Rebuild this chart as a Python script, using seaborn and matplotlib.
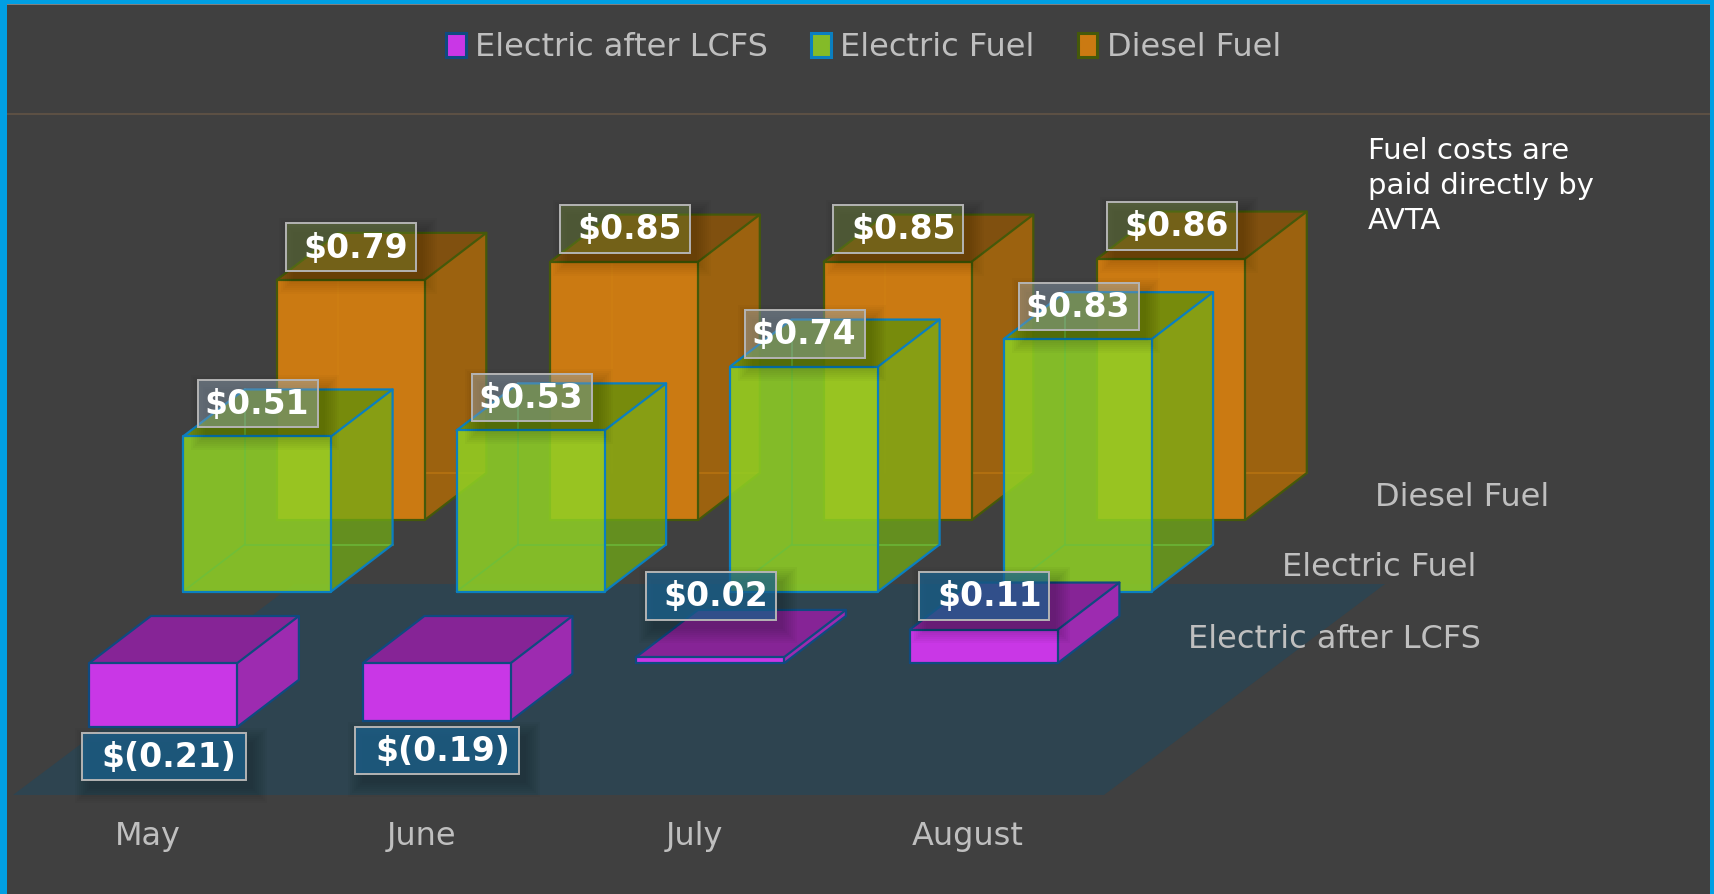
import matplotlib
matplotlib.use("Agg")
import matplotlib.pyplot as plt
import seaborn as sns
import pandas as pd
from matplotlib.patches import Patch, Polygon, Rectangle

months = ["May", "June", "July", "August"]
series_names = ["Electric after LCFS", "Electric Fuel", "Diesel Fuel"]
after_lcfs = [-0.21, -0.19, 0.02, 0.11]
electric_fuel = [0.51, 0.53, 0.74, 0.83]
diesel_fuel = [0.79, 0.85, 0.85, 0.86]
after_lcfs_labels = ["$(0.21)", "$(0.19)", "$0.02", "$0.11"]
electric_fuel_labels = ["$0.51", "$0.53", "$0.74", "$0.83"]
diesel_fuel_labels = ["$0.79", "$0.85", "$0.85", "$0.86"]
note_lines = ["Fuel costs are", "paid directly by", "AVTA"]

W, H = 1714, 894
BG = "#404040"
BLUE = "#009fe3"

# layout, all in reference pixels
PITCH = 273.5
PX_PER_DOLLAR = 304
X_MAY = 163.4
Y_BASE = 663
BAR_W = 148
STEP_X, STEP_Y = 93.7, 71.5
DEPTH_X, DEPTH_Y = 61.5, 47


def xd(px):
    return (px - X_MAY) / PITCH


def yd(py):
    return (Y_BASE - py) / PX_PER_DOLLAR


sns.set_theme(style="white")
plt.rcParams["font.family"] = ["DejaVu Sans"]

fig = plt.figure(figsize=(W / 100, H / 100), dpi=100, facecolor=BG)
ax = fig.add_axes([0, 0, 1, 1])
ax.set_facecolor(BG)

# floor
ax.add_patch(Polygon([(xd(13), yd(795)), (xd(1104), yd(795)), (xd(1385), yd(584)), (xd(294), yd(584))],
                     facecolor="#2e4450", edgecolor="none", zorder=1))

styles = [
    dict(values=after_lcfs, labels=after_lcfs_labels, step=0, front="#c937e6", front_a=1,
         side="#9d2bb0", side_a=1, top="#862496", top_a=1, edge="#0f4a80", inner=None, inner_a=0,
         box="#1b6594", box_a=0.7, text_dx=5, box_w=130, shadow=0.028),
    dict(values=electric_fuel, labels=electric_fuel_labels, step=1, front="#90d224", front_a=0.85,
         side="#71ab15", side_a=0.75, top="#6e8e0c", top_a=0.9, edge="#0a7fc0", inner="#6cbf3c", inner_a=0.8,
         box="#a8c0d8", box_a=0.38, text_dx=-1, box_w=120, shadow=0.022),
    dict(values=diesel_fuel, labels=diesel_fuel_labels, step=2, front="#cb7a12", front_a=1,
         side="#9c620f", side_a=1, top="#80500f", top_a=1, edge="#45590a", inner="#d08212", inner_a=0.5,
         box="#8fb040", box_a=0.3, text_dx=5, box_w=130, shadow=0.018),
]

# back to front so the nearer boxes sit over the further ones
for style in reversed(styles):
    step = style["step"]
    z = 5 - step
    x_off = step * STEP_X / PITCH
    base = step * STEP_Y / PX_PER_DOLLAR
    hw = BAR_W / PITCH / 2
    dx = DEPTH_X / PITCH
    dy = DEPTH_Y / PX_PER_DOLLAR
    frame = pd.DataFrame({"pos": [i + x_off for i in range(4)], "value": style["values"]})
    sns.barplot(data=frame, x="pos", y="value", native_scale=True, width=BAR_W / PITCH, bottom=base,
                color=style["front"], saturation=1, errorbar=None, linewidth=0,
                alpha=style["front_a"], zorder=z + 0.3, ax=ax)
    for pos, value in zip(frame["pos"], frame["value"]):
        x0, x1 = pos - hw, pos + hw
        lo, hi = sorted([base, base + value])
        ax.add_patch(Polygon([(x1, lo), (x1 + dx, lo + dy), (x1 + dx, hi + dy), (x1, hi)],
                             facecolor=style["side"], alpha=style["side_a"], edgecolor="none", zorder=z + 0.2))
        ax.add_patch(Polygon([(x0, hi), (x1, hi), (x1 + dx, hi + dy), (x0 + dx, hi + dy)],
                             facecolor=style["top"], alpha=style["top_a"], edgecolor="none", zorder=z + 0.2))
        if step == 1:
            ax.plot([x0 + dx, x0 + dx, x1 + dx], [hi + dy, lo + dy, lo + dy], color=style["inner"],
                    lw=1.2, alpha=style["inner_a"], zorder=z + 0.35)
            ax.plot([x0, x0 + dx], [lo, lo + dy], color=style["inner"], lw=1.2, alpha=style["inner_a"], zorder=z + 0.35)
        elif step == 2:
            ax.plot([x0 + dx, x0 + dx], [hi, lo + dy], color=style["inner"], lw=1.2, alpha=style["inner_a"], zorder=z + 0.35)
            ax.plot([x1, x1 + dx], [lo + dy, lo + dy], color=style["inner"], lw=1.2, alpha=style["inner_a"], zorder=z + 0.35)
        ax.plot([x0, x1, x1, x0, x0], [lo, lo, hi, hi, lo], color=style["edge"], lw=1.6, zorder=z + 0.4)
        ax.plot([x0, x0 + dx, x1 + dx, x1 + dx, x1], [hi, hi + dy, hi + dy, lo + dy, lo],
                color=style["edge"], lw=1.6, zorder=z + 0.4)
        ax.plot([x1, x1 + dx], [hi, hi + dy], color=style["edge"], lw=1.6, zorder=z + 0.4)

# value labels with a soft shadow
for style in styles:
    step = style["step"]
    x_off = step * STEP_X / PITCH
    base = step * STEP_Y / PX_PER_DOLLAR
    for i, (value, label) in enumerate(zip(style["values"], style["labels"])):
        left = X_MAY + PITCH * (i + x_off) - BAR_W / 2
        bar_top = Y_BASE - PX_PER_DOLLAR * (base + value)
        if step == 0 and value < 0:
            box_w, box_h = 164, 47.5
            x_px, y_px = left - 7.5, Y_BASE - PX_PER_DOLLAR * value + 6
        elif step == 0:
            box_w, box_h = style["box_w"], 47.5
            x_px, y_px = left + 9.3, 572
        else:
            box_w, box_h = style["box_w"], 47.5
            x_px, y_px = left + (15 if step == 1 else 9.3), bar_top - 9 - box_h
        for grow in range(14, -2, -2):
            ax.add_patch(Rectangle((xd(x_px + 7 - grow), yd(y_px + 9 + box_h + grow)),
                                   (box_w + 2 * grow) / PITCH, (box_h + 2 * grow) / PX_PER_DOLLAR,
                                   facecolor="black", alpha=style["shadow"], edgecolor="none", zorder=8))
        ax.add_patch(Rectangle((xd(x_px), yd(y_px + box_h)), box_w / PITCH, box_h / PX_PER_DOLLAR,
                               facecolor=style["box"], alpha=style["box_a"], edgecolor="none", zorder=9))
        ax.add_patch(Rectangle((xd(x_px), yd(y_px + box_h)), box_w / PITCH, box_h / PX_PER_DOLLAR,
                               facecolor="none", edgecolor="#b4b4b4", lw=1.4, zorder=9.5))
        ax.text(xd(x_px + box_w / 2 + style["text_dx"]), yd(y_px + box_h / 2 + 1), label, color="white",
                fontsize=23.8, fontweight="bold", ha="center", va="center", zorder=10)

# month and series names
for i, month in enumerate(months):
    ax.text(i + xd(147.6), yd(836), month, color="#bfbfbf", fontsize=23, ha="center", va="center", zorder=3)
for name, px, py in zip(series_names, [1188, 1282, 1375], [639, 568, 497]):
    ax.text(xd(px), yd(py), name, color="#bfbfbf", fontsize=23, ha="left", va="center", zorder=3)
for line, py in zip(note_lines, [151, 186, 221]):
    ax.text(xd(1368), yd(py), line, color="white", fontsize=21, ha="left", va="center", zorder=3)

handles = [Patch(facecolor="#c937e6", edgecolor="#0f4a80", lw=2.2),
           Patch(facecolor="#84bb28", edgecolor="#0a7fc0", lw=2.2),
           Patch(facecolor="#cb7a12", edgecolor="#45590a", lw=2.2)]
leg = ax.legend(handles, series_names, ncols=3, loc="center", bbox_to_anchor=(863.5 / W, 1 - 47.5 / H), frameon=False,
                fontsize=23, labelcolor="#bfbfbf", handlelength=0.62, handleheight=0.8, handletextpad=0.3,
                columnspacing=1.34, borderpad=0, borderaxespad=0)

# frame of the slide
ax.add_patch(Rectangle((xd(0), yd(114.5)), W / PITCH, 1.2 / PX_PER_DOLLAR, facecolor="#5c5044", edgecolor="none", zorder=2))
ax.add_patch(Rectangle((xd(0), yd(5)), W / PITCH, 1 / PX_PER_DOLLAR, facecolor="#808080", edgecolor="none", zorder=19))
ax.add_patch(Rectangle((xd(0), yd(H)), 7 / PITCH, H / PX_PER_DOLLAR, facecolor=BLUE, edgecolor="none", zorder=20))
ax.add_patch(Rectangle((xd(W - 4), yd(H)), 4 / PITCH, H / PX_PER_DOLLAR, facecolor=BLUE, edgecolor="none", zorder=20))
ax.add_patch(Rectangle((xd(0), yd(4)), W / PITCH, 4 / PX_PER_DOLLAR, facecolor=BLUE, edgecolor="none", zorder=20))

ax.set_xlim(xd(0), xd(W))
ax.set_ylim(yd(H), yd(0))
ax.axis("off")

fig.savefig("out.png", dpi=100, facecolor=BG)
